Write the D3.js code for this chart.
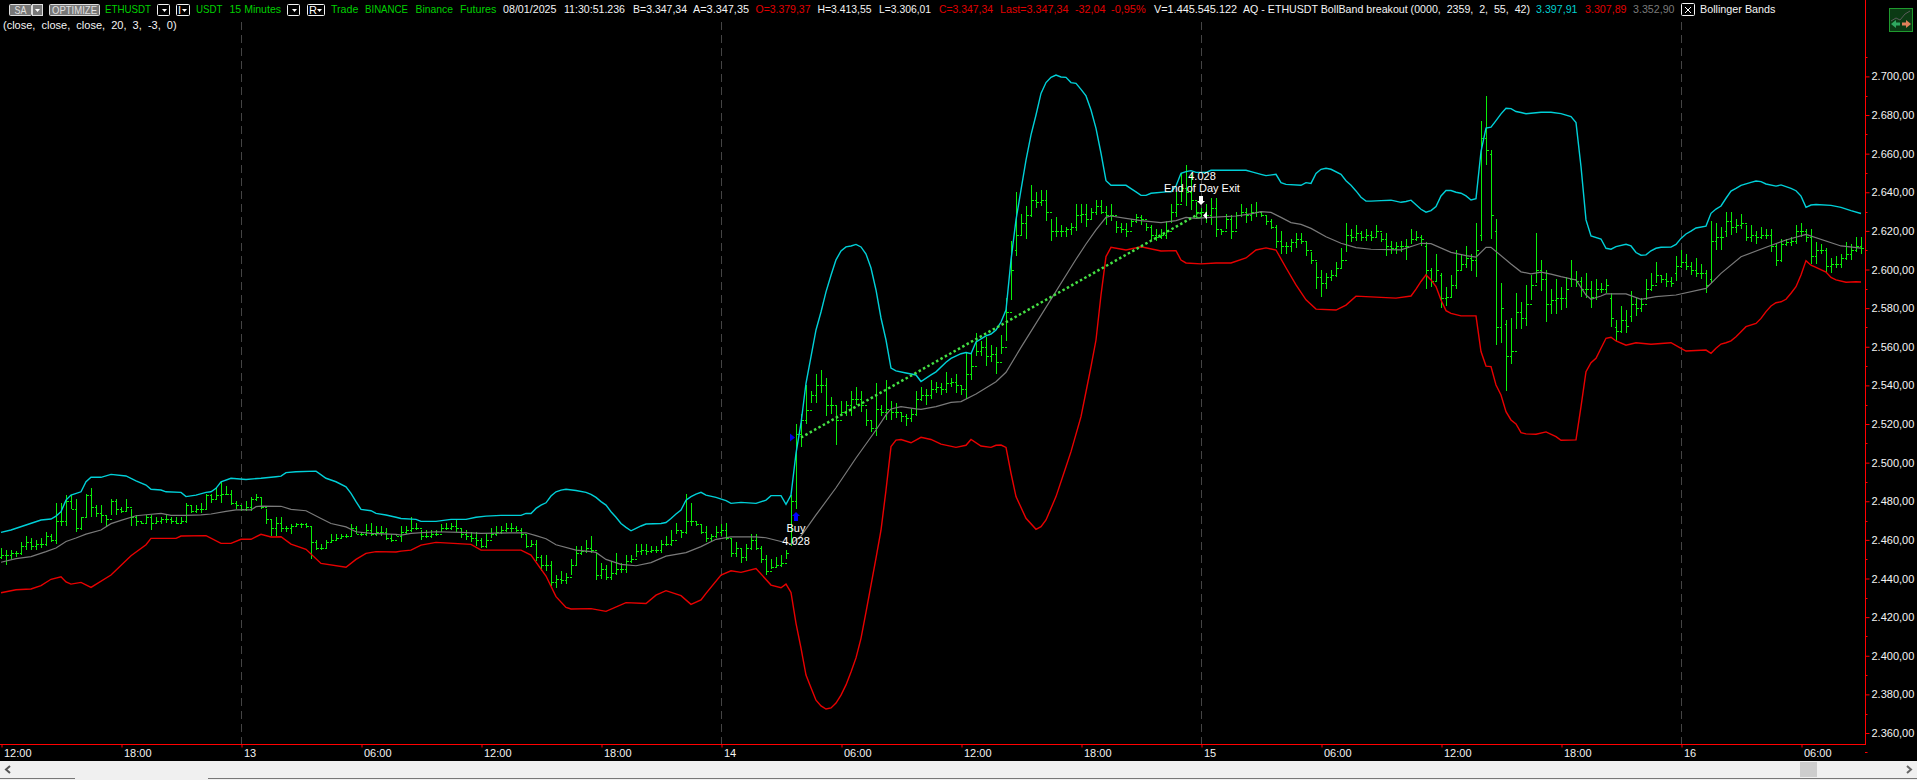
<!DOCTYPE html>
<html>
<head>
<meta charset="utf-8">
<script src="https://cdn.jsdelivr.net/npm/d3@7"></script>
<style>
  html, body { margin: 0; padding: 0; background: #000; overflow: hidden; }
  svg { display: block; }
  text { font-family: "Liberation Sans", Arial, sans-serif; font-size: 11px; white-space: pre; }
</style>
</head>
<body>
<script>
// 15 minute bars (prices). One line = 10 bars.
const highs = [
  2456,2455,2455,2454,2459,2462,2461,2460,2461,2464,
  2463,2479,2479,2483,2483,2481,2472,2484,2487,2478,
  2478,2473,2481,2481,2477,2481,2476,2473,2470,2473,
  2473,2472,2472,2473,2472,2472,2472,2479,2478,2478,
  2479,2484,2484,2487,2490,2488,2486,2480,2478,2480,
  2482,2484,2482,2476,2471,2472,2472,2467,2468,2469,
  2469,2469,2467,2460,2458,2460,2463,2463,2463,2463,
  2468,2467,2464,2468,2469,2467,2467,2466,2463,2463,
  2467,2467,2472,2469,2465,2465,2465,2465,2468,2469,
  2469,2471,2466,2465,2464,2464,2461,2463,2466,2467,
  2467,2469,2469,2467,2466,2463,2460,2460,2452,2452,
  2449,2442,2444,2443,2450,2457,2457,2460,2462,2453,
  2448,2447,2449,2453,2448,2452,2452,2458,2458,2458,
  2457,2457,2460,2462,2465,2469,2465,2484,2479,2470,
  2468,2467,2463,2467,2468,2469,2461,2459,2456,2458,
  2463,2463,2457,2452,2450,2451,2452,2455,2483,2520,
  2525,2540,2537,2546,2548,2544,2534,2530,2532,2532,
  2537,2539,2537,2528,2522,2541,2530,2543,2532,2531,
  2526,2525,2528,2537,2539,2538,2543,2542,2541,2547,
  2544,2546,2540,2557,2557,2567,2563,2565,2561,2560,
  2566,2585,2615,2640,2629,2633,2644,2640,2641,2641,
  2626,2627,2623,2622,2624,2634,2634,2634,2632,2636,
  2636,2633,2634,2625,2624,2624,2626,2629,2628,2624,
  2623,2621,2621,2625,2634,2640,2650,2654,2650,2635,
  2632,2634,2637,2637,2621,2629,2628,2630,2634,2632,
  2634,2635,2630,2628,2626,2623,2620,2614,2616,2619,
  2619,2615,2609,2604,2600,2598,2600,2604,2611,2624,
  2621,2623,2620,2621,2620,2623,2619,2619,2615,2614,
  2615,2616,2621,2620,2618,2614,2601,2608,2598,2591,
  2597,2610,2608,2612,2608,2624,2677,2690,2662,2626,
  2593,2574,2575,2588,2583,2592,2597,2619,2605,2600,
  2590,2595,2591,2596,2605,2599,2596,2598,2594,2595,
  2593,2595,2588,2574,2581,2579,2589,2585,2585,2595,
  2598,2604,2597,2598,2596,2607,2610,2608,2604,2606,
  2603,2600,2625,2624,2622,2630,2630,2626,2629,2623,
  2623,2620,2622,2621,2621,2613,2616,2616,2617,2623,
  2624,2621,2621,2614,2613,2611,2606,2607,2608,2614,
  2613,2617,2617
];
const lows = [
  2450,2447,2450,2451,2452,2455,2455,2455,2456,2457,
  2459,2458,2467,2467,2476,2464,2465,2472,2472,2472,
  2469,2467,2473,2473,2474,2475,2467,2467,2468,2468,
  2465,2468,2468,2469,2468,2468,2469,2469,2474,2474,
  2474,2476,2479,2481,2479,2483,2478,2476,2475,2475,
  2475,2480,2476,2468,2462,2462,2464,2464,2463,2467,
  2466,2466,2450,2455,2455,2456,2459,2460,2461,2461,
  2462,2463,2462,2462,2462,2462,2462,2460,2459,2462,
  2459,2463,2464,2465,2460,2461,2461,2462,2464,2465,
  2465,2464,2461,2460,2459,2457,2456,2456,2461,2462,
  2463,2464,2464,2464,2461,2456,2457,2449,2444,2444,
  2436,2435,2437,2437,2442,2447,2452,2453,2453,2439,
  2440,2439,2439,2442,2443,2443,2448,2451,2452,2452,
  2453,2453,2453,2457,2457,2463,2461,2463,2467,2467,
  2463,2459,2459,2461,2462,2460,2451,2451,2448,2449,
  2455,2455,2448,2442,2445,2446,2446,2450,2457,2476,
  2508,2520,2531,2531,2536,2524,2525,2509,2524,2524,
  2524,2530,2526,2519,2516,2514,2524,2522,2522,2523,
  2521,2519,2521,2524,2532,2530,2533,2536,2535,2536,
  2539,2536,2535,2533,2543,2555,2555,2550,2552,2546,
  2556,2563,2584,2607,2618,2616,2627,2632,2633,2625,
  2615,2617,2617,2617,2618,2620,2624,2622,2626,2628,
  2629,2623,2625,2619,2619,2617,2622,2624,2623,2620,
  2615,2615,2616,2616,2624,2627,2635,2633,2631,2626,
  2627,2624,2623,2617,2618,2621,2616,2621,2627,2624,
  2625,2627,2627,2623,2621,2611,2608,2608,2609,2611,
  2613,2607,2603,2590,2586,2590,2594,2596,2601,2609,
  2614,2615,2615,2615,2615,2617,2614,2607,2608,2608,
  2609,2605,2613,2615,2612,2590,2591,2594,2580,2581,
  2586,2590,2600,2601,2599,2596,2615,2654,2616,2561,
  2562,2537,2551,2569,2569,2571,2584,2593,2589,2573,
  2577,2577,2579,2580,2591,2591,2586,2585,2580,2584,
  2588,2588,2570,2563,2567,2567,2573,2576,2578,2584,
  2589,2593,2593,2591,2591,2594,2601,2600,2597,2596,
  2595,2588,2593,2610,2610,2617,2618,2619,2621,2615,
  2614,2613,2616,2616,2609,2602,2604,2612,2612,2613,
  2617,2614,2603,2603,2608,2598,2598,2601,2601,2605,
  2605,2609,2608
];
const opens = [
  2451,2452,2452,2453,2453,2457,2459,2457,2458,2458,
  2462,2460,2470,2470,2480,2476,2466,2472,2483,2477,
  2474,2473,2471,2480,2476,2475,2477,2472,2470,2469,
  2472,2469,2470,2471,2471,2470,2469,2470,2478,2475,
  2476,2476,2483,2481,2483,2484,2484,2479,2478,2476,
  2477,2481,2482,2477,2471,2466,2469,2466,2466,2467,
  2468,2468,2467,2459,2456,2456,2459,2460,2461,2462,
  2462,2466,2463,2463,2465,2463,2464,2464,2461,2460,
  2462,2464,2465,2466,2466,2462,2462,2463,2463,2466,
  2466,2467,2466,2463,2462,2461,2460,2457,2460,2463,
  2464,2465,2466,2466,2465,2463,2457,2458,2451,2447,
  2447,2438,2440,2439,2441,2447,2453,2454,2456,2455,
  2442,2445,2441,2443,2445,2445,2449,2450,2454,2455,
  2454,2455,2455,2458,2458,2460,2465,2464,2470,2470,
  2468,2464,2461,2462,2464,2465,2461,2453,2456,2451,
  2456,2460,2456,2450,2444,2446,2447,2448,2458,2480,
  2515,2522,2527,2535,2540,2540,2530,2530,2522,2526,
  2530,2533,2533,2530,2522,2518,2528,2526,2528,2526,
  2526,2524,2523,2525,2533,2535,2535,2538,2539,2538,
  2541,2542,2540,2538,2546,2550,2558,2560,2555,2556,
  2552,2560,2578,2610,2618,2624,2628,2636,2635,2636,
  2630,2620,2620,2620,2621,2622,2628,2629,2626,2630,
  2633,2630,2628,2628,2622,2621,2620,2625,2627,2626,
  2622,2618,2617,2618,2620,2630,2634,2642,2640,2636,
  2630,2630,2628,2632,2621,2620,2626,2620,2628,2630,
  2628,2630,2630,2628,2625,2622,2615,2612,2612,2614,
  2616,2615,2610,2605,2596,2593,2596,2597,2601,2605,
  2618,2617,2619,2617,2618,2617,2620,2616,2612,2611,
  2612,2612,2612,2616,2617,2612,2600,2594,2597,2585,
  2586,2592,2600,2603,2606,2605,2618,2668,2660,2620,
  2570,2572,2555,2558,2578,2575,2582,2592,2600,2595,
  2582,2584,2585,2585,2595,2595,2594,2590,2590,2586,
  2590,2590,2585,2570,2568,2574,2576,2582,2580,2582,
  2590,2592,2597,2595,2594,2598,2602,2604,2602,2600,
  2598,2598,2595,2615,2617,2620,2625,2622,2623,2624,
  2617,2618,2617,2618,2618,2612,2605,2613,2614,2615,
  2620,2620,2617,2607,2610,2610,2602,2603,2603,2606,
  2608,2610,2612
];
const closes = [
  2452,2452,2453,2453,2457,2459,2457,2458,2458,2462,
  2460,2470,2470,2480,2476,2466,2472,2483,2477,2474,
  2473,2471,2480,2476,2475,2477,2472,2470,2469,2472,
  2469,2470,2471,2471,2470,2469,2470,2478,2475,2476,
  2476,2483,2481,2483,2484,2484,2479,2478,2476,2477,
  2481,2482,2477,2471,2466,2469,2466,2466,2467,2468,
  2468,2467,2459,2456,2456,2459,2460,2461,2462,2462,
  2466,2463,2463,2465,2463,2464,2464,2461,2460,2462,
  2464,2465,2466,2466,2462,2462,2463,2463,2466,2466,
  2467,2466,2463,2462,2461,2460,2457,2460,2463,2464,
  2465,2466,2466,2465,2463,2457,2458,2451,2447,2447,
  2438,2440,2439,2441,2447,2453,2454,2456,2455,2442,
  2445,2441,2443,2445,2445,2449,2450,2454,2455,2454,
  2455,2455,2458,2458,2460,2465,2464,2470,2470,2468,
  2464,2461,2462,2464,2465,2461,2453,2456,2451,2456,
  2460,2456,2450,2444,2446,2447,2448,2453,2480,2515,
  2522,2527,2535,2540,2540,2530,2530,2522,2526,2530,
  2533,2533,2530,2522,2518,2528,2526,2528,2526,2526,
  2524,2523,2525,2533,2535,2535,2538,2539,2538,2541,
  2542,2540,2538,2546,2550,2558,2560,2555,2556,2552,
  2560,2578,2600,2618,2624,2628,2636,2635,2636,2630,
  2620,2620,2620,2621,2622,2628,2629,2626,2630,2633,
  2630,2628,2628,2622,2621,2620,2625,2627,2626,2622,
  2618,2617,2618,2620,2630,2634,2642,2640,2636,2630,
  2630,2628,2632,2621,2620,2626,2620,2628,2630,2628,
  2630,2630,2628,2625,2622,2615,2612,2612,2614,2616,
  2615,2610,2605,2596,2593,2596,2597,2601,2605,2618,
  2617,2619,2617,2618,2617,2620,2616,2612,2611,2612,
  2612,2612,2616,2617,2616,2600,2594,2600,2585,2586,
  2592,2600,2603,2606,2605,2610,2668,2662,2628,2570,
  2580,2555,2558,2578,2575,2582,2592,2600,2595,2582,
  2584,2585,2585,2590,2595,2594,2590,2590,2586,2590,
  2590,2592,2575,2568,2574,2571,2582,2580,2582,2590,
  2592,2597,2595,2594,2593,2602,2604,2602,2600,2598,
  2598,2592,2615,2617,2617,2625,2622,2623,2624,2617,
  2618,2617,2618,2618,2612,2605,2613,2614,2615,2620,
  2620,2617,2607,2610,2610,2602,2603,2603,2606,2608,
  2610,2612,2611
];

// Bollinger bands: bar index and price of each point
const upperIdx = [0,2,5,8,10,11,12,13,14,16,17,18,20,22,25,27,29,30,32,33,36,37,39,41,42,43,44,46,49,52,53,55,56,57,59,63,65,67,69,70,71,72,74,75,77,79,
  80,83,84,87,90,93,95,97,100,104,105,106,107,108,109,110,111,112,113,115,117,118,119,120,121,122,123,124,125,126,127,128,129,132,133,134,135,136,137,138,139,140,141,143,145,146,148,151,153,154,156,157,158,
  159,160,161,162,163,164,165,166,167,168,169,170,171,172,173,174,175,176,177,178,179,181,183,184,186,187,189,190,192,193,194,195,197,198,199,200,201,202,
  203,204,205,206,207,208,209,210,211,212,213,214,215,216,217,218,219,220,221,222,225,226,227,228,229,230,233,234,235,236,237,238,239,241,242,249,250,252,253,255,256,257,260,261,262,263,264,265,266,268,269,
  270,271,272,273,274,276,278,280,281,282,283,284,285,286,287,288,289,290,291,292,293,294,295,296,297,298,299,300,301,302,303,304,305,306,308,310,312,314,315,316,317,318,320,321,322,323,325,326,327,328,329,
  330,331,332,334,335,336,337,338,339,341,342,343,344,345,346,347,348,350,351,352,353,355,356,358,359,360,361,362,363,366,368,370,372];
const upperBand = [2463.9,2465.1,2467.7,2470.3,2470.8,2472.3,2474.6,2480.6,2483.2,2484.9,2490.1,2492.4,2492.4,2493.9,2493.1,2490.6,2488.4,2486.2,2485.8,2484.9,2484.6,2482.4,2483.2,2484.6,2484.9,2486.7,2490.1,2491.9,2491.3,2491.9,2492.2,2492.7,2493,2494.8,2495.3,2495.6,2491.9,2490.1,2487.5,2484.1,2479.8,2475.8,2475.1,2473.7,2472.9,2471.7,
  2471.1,2470.6,2469.6,2469.6,2470.6,2470.6,2471.7,2472.3,2472.7,2472.7,2473.7,2473.7,2476.3,2478,2479.2,2482.7,2484.9,2485.8,2486.2,2485.6,2484.6,2483.6,2482,2479.8,2478,2474.6,2471.7,2468.5,2466.5,2464.7,2466,2467.2,2468.2,2468.5,2469,2471.1,2473.4,2475.5,2480.6,2482.4,2483.7,2484.6,2483.2,2482,2480.3,2478.9,2479.4,2478.9,2480.6,2482.9,2482.9,2478.4,2483.2,
  2504.8,2520.4,2541.1,2554.9,2568.7,2578,2588.4,2597,2605,2609.6,2611.7,2612.2,2613,2611.7,2608,2600.8,2589.4,2574.9,2563.5,2549,2547.5,2546.4,2545.4,2542,2545.4,2547,2552,2554,2556.4,2557,2556.4,2562.5,2565.6,2566.6,2568.7,2572.8,2579,2604.9,
  2625.7,2641.2,2656.7,2669.7,2680,2691.2,2696.8,2699.5,2700.7,2699.7,2699.5,2696.8,2696.4,2693.3,2689.9,2682.6,2673.1,2660.2,2646,2643.6,2643.6,2641.9,2640.2,2638.4,2638.4,2639.5,2640.2,2640.3,2643.3,2649.8,2650.7,2651.2,2650.3,2650.2,2651.4,2651.4,2650.7,2649.3,2648.6,2649.3,2645,2644.1,2643.6,2645,2644.6,2649.8,2651.9,2652.4,2651.9,2649.3,2646,
  2643.6,2640.7,2637.4,2635.5,2635.4,2635.7,2635.9,2634.8,2635.2,2635.9,2633.5,2631.2,2629.7,2630.5,2632.6,2638.1,2640.9,2640.9,2640,2639.5,2638.1,2636,2636.7,2661.1,2673.2,2673.7,2677.1,2680.6,2683.5,2683.3,2681.8,2681.3,2680.7,2680.9,2681.4,2681.4,2680.7,2679.2,2676.1,2653.3,2625.7,2617.4,2615.8,2611,2610.5,2611.9,2613.1,2612.2,2608.8,2607.4,2607.6,
  2609.7,2611,2611.5,2611.6,2613,2616.1,2618.4,2619.9,2621.5,2622.5,2629.1,2631.3,2632.9,2636.9,2640.6,2642,2643.6,2645.1,2645.8,2645.5,2644.3,2643.2,2643.8,2642,2640.8,2638,2632.2,2633.4,2633.7,2633.2,2632.2,2630.5,2629];

const middleIdx = [0,3,6,9,11,13,15,17,20,22,24,27,29,32,34,37,40,42,45,47,50,51,52,56,58,61,64,66,69,71,74,79,
  80,82,87,92,96,105,107,109,111,115,118,119,121,124,127,130,133,137,140,143,146,151,153,157,158,159,160,163,167,171,175,177,178,180,183,184,187,190,192,195,199,201,204,
  215,217,219,221,222,225,228,232,235,237,239,241,247,250,252,254,256,258,260,262,265,268,271,274,280,284,286,290,293,295,297,298,302,304,306,308,310,312,315,317,318,320,321,325,328,331,335,341,344,348,353,357,361,368,372];
const middleBand = [2448.4,2450.3,2451.3,2453.9,2455.8,2459.2,2461,2463,2465.1,2468.4,2470.1,2472.5,2473,2473.7,2472.7,2472.7,2473,2473.4,2474.8,2475.5,2475.5,2477.2,2477.5,2477.4,2475.8,2475.1,2471.1,2468.5,2466.7,2464.2,2463.4,2462.9,
  2462.5,2463.4,2464.2,2463.9,2463.4,2463.7,2462.2,2460.6,2457.5,2454.7,2453.9,2453.5,2449.9,2447.3,2446.6,2448.2,2451.6,2453.4,2456.5,2460.3,2461.6,2461.6,2461.1,2458.5,2457.8,2459.9,2462,2472.9,2487,2502.4,2516.9,2524.7,2527.8,2529,2527.8,2527.6,2529,2531.2,2531.6,2535.5,2541.9,2546.8,2559.7,
  2605.3,2613.2,2620.5,2627,2627.7,2626.5,2625.3,2624.3,2625.3,2627,2626.5,2626.9,2627.7,2628.8,2630,2629.6,2627,2624.3,2623.4,2621.3,2617,2613.6,2611.3,2610.5,2610.2,2613.6,2613.4,2608.9,2607.2,2606.4,2611.5,2611.5,2602.9,2598.8,2597.7,2598.6,2597.6,2596.3,2594.6,2586.8,2584.6,2586.3,2587.4,2587.4,2584.6,2586,2586.8,2590.2,2598,2606.6,2611.5,2615.3,2618.2,2612.2,2611.1];

const lowerIdx = [0,3,6,8,10,12,13,14,16,18,22,26,29,30,35,36,41,44,46,48,50,52,54,56,58,61,64,69,71,73,75,79,
  80,82,84,87,94,96,104,106,109,111,113,114,118,121,125,129,131,133,136,138,140,141,144,146,148,151,154,156,157,158,159,
  160,161,162,163,164,165,166,167,168,169,170,171,172,173,174,175,176,177,178,179,180,182,184,186,188,191,193,194,196,198,199,200,201,202,203,205,207,208,209,211,213,214,216,217,218,219,220,221,222,225,228,232,235,236,237,240,243,246,249,251,253,255,257,259,261,263,267,269,271,275,279,282,283,284,285,286,287,288,289,290,292,295,296,297,298,299,300,301,302,303,304,305,307,309,311,312,315,316,317,318,319,320,321,322,323,325,327,330,334,336,337,341,342,343,344,345,346,347,348,349,351,352,353,354,355,356,357,358,359,360,361,362,363,365,366,367,369,371,372];
const lowerBand = [2432.6,2434.2,2434.6,2436.3,2439.6,2440.9,2438.2,2437.1,2438,2435.4,2441.8,2451.8,2457.5,2460.8,2460.8,2462,2462.2,2458.2,2458.2,2460.3,2460.3,2462.9,2461.5,2461.6,2457.8,2455.1,2447.8,2445.8,2449.9,2453,2453.9,2453.7,
  2454.2,2454.7,2457.3,2458.7,2457.7,2454.7,2454.7,2452.1,2441.3,2430.6,2425,2424.2,2424.4,2423,2427.5,2427.1,2431.4,2433.7,2431.1,2426.6,2428.9,2432.3,2441.8,2444,2443.2,2445.2,2436.6,2435.2,2437.1,2432.8,2416.8,
  2404,2390,2383.4,2377,2374,2372.4,2373,2375.5,2379.6,2384.9,2391.6,2398.9,2409,2422.6,2436.6,2450.5,2465,2485.8,2508.3,2511.7,2512,2510.3,2513.1,2512,2509.6,2507.9,2509,2512,2508.6,2507.9,2509,2509.1,2507.9,2494.5,2482.4,2471.2,2465.5,2466.8,2470.3,2482.4,2497.9,2505.7,2523.8,2536.7,2549.7,2563.5,2586.8,2606.7,2611.5,2610.1,2611.8,2609.6,2609.8,2604.9,2603.4,2602.9,2603.4,2603.4,2606,2610.1,2611.2,2610.1,2600.9,2592,2584.3,2579.5,2579,2581.6,2586.2,2585.7,2585.2,2586.3,2589.8,2593.8,2597.2,2594.6,2591.2,2584.2,2578.7,2577.3,2576,2576,2557.5,2550,2549.7,2540.2,2535,2526.4,2522.1,2520,2515.5,2514.9,2514.7,2515.9,2513.5,2511.6,2511.8,2529,2547.1,2551.8,2554,2559.2,2564.4,2564.9,2563,2560.8,2562.1,2561.3,2562.1,2559.2,2557.8,2558.3,2556.6,2559.2,2561.4,2562.1,2563.1,2565.2,2567.8,2570.4,2572.1,2574.7,2578.2,2581.1,2582.8,2583.3,2584.6,2587.7,2591.1,2597.2,2604.6,2602.2,2601.1,2598.7,2595.9,2594.6,2593.4,2593.7,2593.5];

// axes
const dayBars = [48, 144, 240, 336];
const timeTicks = [0,24,48,72,96,120,144,168,192,216,240,264,288,312,336,360];
const timeLabels = ["12:00","18:00","13","06:00","12:00","18:00","14","06:00","12:00","18:00","15","06:00","12:00","18:00","16","06:00"];
const priceTicks = d3.range(2360, 2701, 20);
const priceMinor = d3.range(2350, 2711, 20);

// trade
const tradeIdx = [160, 239];
const tradePrice = [2513, 2628];

const width = 1917, height = 780;
const axisX = 1865, axisY = 744;

let x = d3.scaleLinear().domain([0, 372]).range([1, 1861]);
let y = d3.scaleLinear().domain([2360, 2700]).range([733, 76.4]);

const priceFormat = d3.formatLocale({ decimal: ",", thousands: ".", grouping: [3], currency: ["", ""] }).format(",.2f");

let svg = d3.select("body").append("svg")
    .attr("width", width)
    .attr("height", height)
    .attr("viewBox", [0, 0, width, height]);

svg.append("rect").attr("width", width).attr("height", height).attr("fill", "#000");

// day separators
svg.append("g")
    .selectAll("line")
    .data(dayBars)
    .join("line")
    .attr("x1", d => x(d) + 0.5)
    .attr("x2", d => x(d) + 0.5)
    .attr("y1", 22)
    .attr("y2", axisY)
    .attr("stroke", "#444")
    .attr("stroke-dasharray", "8,5");

// OHLC bars
const bars = svg.append("g")
    .attr("stroke", "#08ef08")
    .attr("shape-rendering", "crispEdges")
    .selectAll("g")
    .data(d3.range(highs.length))
    .join("g");
bars.append("line")
    .attr("x1", i => x(i) + 0.5).attr("x2", i => x(i) + 0.5)
    .attr("y1", i => y(highs[i])).attr("y2", i => y(lows[i]));
bars.append("line")
    .attr("x1", i => x(i) - 1.5).attr("x2", i => x(i) + 0.5)
    .attr("y1", i => Math.round(y(opens[i])) + 0.5).attr("y2", i => Math.round(y(opens[i])) + 0.5);
bars.append("line")
    .attr("x1", i => x(i) + 0.5).attr("x2", i => x(i) + 2.5)
    .attr("y1", i => Math.round(y(closes[i])) + 0.5).attr("y2", i => Math.round(y(closes[i])) + 0.5);

// bands
const bandLine = (idx, vals) => d3.line().x((d, i) => x(idx[i])).y(d => y(d))(vals);
svg.append("path").attr("d", bandLine(middleIdx, middleBand)).attr("fill", "none").attr("stroke", "#7a7a7a").attr("stroke-width", 1.2);
svg.append("path").attr("d", bandLine(upperIdx, upperBand)).attr("fill", "none").attr("stroke", "#00d0d8").attr("stroke-width", 1.4);
svg.append("path").attr("d", bandLine(lowerIdx, lowerBand)).attr("fill", "none").attr("stroke", "#e80000").attr("stroke-width", 1.4);

// trade line and markers
svg.append("path")
    .attr("d", d3.line().x((d, i) => x(tradeIdx[i])).y(d => y(d))(tradePrice))
    .attr("fill", "none")
    .attr("stroke", "#44e044")
    .attr("stroke-width", 2.5)
    .attr("stroke-dasharray", "2.5,2.5");

const entryX = x(tradeIdx[0]), entryY = y(tradePrice[0]);
const exitX = x(tradeIdx[1]), exitY = y(tradePrice[1]);
svg.append("path").attr("d", `M${entryX - 11},${entryY - 4}L${entryX - 6},${entryY}L${entryX - 11},${entryY + 4}Z`).attr("fill", "#0000e0");
svg.append("path").attr("d", "M796,512l4,4h-2v5h-4v-5h-2Z").attr("fill", "#0000ff");
svg.append("path").attr("d", `M${exitX + 11},${exitY - 4}L${exitX + 7},${exitY}L${exitX + 11},${exitY + 4}Z`).attr("fill", "#fff");
svg.append("path").attr("d", "M1201,205l4,-4h-2v-5h-4v5h-2Z").attr("fill", "#fff");
svg.append("circle").attr("cx", exitX + 3).attr("cy", exitY).attr("r", 2.5).attr("fill", "none").attr("stroke", "#3ed43e");

const notes = [
  ["Buy", 796, 532], ["4.028", 796, 545],
  ["4.028", 1202, 180], ["End of Day Exit", 1202, 192]
];
svg.append("g").selectAll("text").data(notes).join("text")
    .attr("x", d => d[1]).attr("y", d => d[2])
    .attr("text-anchor", "middle").attr("fill", "#fff")
    .text(d => d[0]);

// price axis
const yAxis = d3.axisRight(y).tickValues(priceTicks).tickSize(4).tickSizeOuter(0).tickPadding(2).tickFormat(priceFormat);
const yg = svg.append("g").attr("transform", `translate(${axisX + 0.5},0)`).call(yAxis);
yg.select(".domain").remove();
yg.selectAll(".tick line").attr("stroke", "#f00");
yg.selectAll("text").attr("fill", "#f4f4f4").style("font-size", "11px").style("font-family", "Liberation Sans");
svg.append("g").selectAll("line").data(priceMinor).join("line")
    .attr("x1", axisX).attr("x2", axisX + 2.5)
    .attr("y1", d => Math.round(y(d)) + 0.5).attr("y2", d => Math.round(y(d)) + 0.5)
    .attr("stroke", "#f00");
svg.append("line").attr("x1", axisX + 0.5).attr("x2", axisX + 0.5).attr("y1", 0).attr("y2", axisY + 0.5).attr("stroke", "#f00");

// time axis
const xAxis = d3.axisBottom(x).tickValues(timeTicks).tickSize(3).tickSizeOuter(0).tickPadding(2).tickFormat((d, i) => timeLabels[i]);
const xg = svg.append("g").attr("transform", `translate(0.5,${axisY + 0.5})`).call(xAxis);
xg.select(".domain").remove();
xg.selectAll(".tick line").attr("stroke", "#f00");
xg.selectAll("text").attr("fill", "#f4f4f4").attr("text-anchor", "start").attr("dx", 2).style("font-size", "11px").style("font-family", "Liberation Sans");
svg.append("line").attr("x1", 0).attr("x2", axisX + 1).attr("y1", axisY + 0.5).attr("y2", axisY + 0.5).attr("stroke", "#f00");

// header: text, left edge, colour, measured width
const green = "#00d000", white = "#f4f4f4", red = "#e00000";
const header = [
  ["ETHUSDT", 105, green, 46], ["USDT", 196, green, 26.5], ["15 Minutes", 229.5, green, 51.5],
  ["Trade", 331, green, 27.3], ["BINANCE", 365, green, 43], ["Binance", 415.5, green, 37.5], ["Futures", 460, green, 36.3],
  ["08/01/2025", 503, white, 53.5], ["11:30:51.236", 564, white, 61], ["B=3.347,34", 633, white, 54], ["A=3.347,35", 693, white, 56],
  ["O=3.379,37", 755.5, red, 55], ["H=3.413,55", 817.5, white, 54], ["L=3.306,01", 879, white, 52], ["C=3.347,34", 939, red, 54],
  ["Last=3.347,34", 1000, red, 68.5], ["-32,04", 1075, red, 30.6], ["-0,95%", 1111, red, 34.7], ["V=1.445.545.122", 1154, white, 83],
  ["AQ - ETHUSDT BollBand breakout (0000,  2359,  2,  55,  42)", 1243, white, 287],
  ["3.397,91", 1536, "#00d0d0", 41.5], ["3.307,89", 1585, red, 41.5], ["3.352,90", 1633, "#7a7a7a", 41.5], ["Bollinger Bands", 1700, white, 75.5]
];
svg.append("g").selectAll("text").data(header).join("text")
    .attr("x", d => d[1]).attr("y", 13).attr("fill", d => d[2])
    .attr("textLength", d => d[3]).attr("lengthAdjust", "spacingAndGlyphs")
    .text(d => d[0]);
svg.append("text").attr("x", 3).attr("y", 29).attr("fill", white).text("(close,  close,  close,  20,  3,  -3,  0)");

// toolbar buttons
const btn = svg.append("g");
[[9, 22, "SA", 12], [49, 50, "OPTIMIZE", 45]].forEach(([bx, bw, label, lw]) => {
  btn.append("rect").attr("x", bx + 0.5).attr("y", 4.5).attr("width", bw).attr("height", 11).attr("rx", 1).attr("fill", "#777").attr("stroke", "#ddd");
  btn.append("text").attr("x", bx + (bw - lw) / 2 + 0.5).attr("y", 14).attr("fill", "#e0e0e0")
      .attr("textLength", lw).attr("lengthAdjust", "spacingAndGlyphs").text(label);
});
btn.append("rect").attr("x", 32.5).attr("y", 4.5).attr("width", 10).attr("height", 11).attr("fill", "#777").attr("stroke", "#ddd");
btn.append("path").attr("d", "M35,9h5l-2.5,3Z").attr("fill", "#fff");
[[157, 12, ""], [176, 13, "I"], [287, 12, ""], [307, 17, "R"]].forEach(([bx, bw, label]) => {
  btn.append("rect").attr("x", bx + 0.5).attr("y", 4.5).attr("width", bw).attr("height", 11).attr("rx", 1).attr("fill", "#000").attr("stroke", "#f4f4f4");
  btn.append("path").attr("d", `M${bx + bw - 7},9h5l-2.5,3Z`).attr("fill", "#fff");
  if (label) btn.append("text").attr("x", bx + 2).attr("y", 14).attr("fill", "#fff").text(label);
});
btn.append("rect").attr("x", 1681.5).attr("y", 3.5).attr("width", 13).attr("height", 12).attr("rx", 1).attr("fill", "#000").attr("stroke", "#f4f4f4");
btn.append("path").attr("d", "M1685,7l6,6M1691,7l-6,6").attr("stroke", "#fff").attr("fill", "none");

// corner icon
const icon = svg.append("g").attr("transform", "translate(1889,8)");
icon.append("rect").attr("x", 0.5).attr("y", 0.5).attr("width", 23).attr("height", 23).attr("fill", "#0b3a14").attr("stroke", "#1f9a2e");
icon.append("path").attr("d", "M2,13l5,-3l4,2l5,-6l5,-3").attr("fill", "none").attr("stroke", "#5a5a5a");
icon.append("path").attr("d", "M2,16l5,-4v2.5h4v3h-4v2.5Z").attr("fill", "#2fa860");
icon.append("path").attr("d", "M22,16l-5,-4v2.5h-4v3h4v2.5Z").attr("fill", "#e0805a");

// scrollbar strip
svg.append("rect").attr("x", 0).attr("y", 761).attr("width", width).attr("height", 19).attr("fill", "#f0f0f0");
svg.append("rect").attr("x", 1800).attr("y", 762).attr("width", 17).attr("height", 15).attr("fill", "#cdcdcd");
svg.append("path").attr("d", "M10,766l-4,3.5l4,3.5").attr("fill", "none").attr("stroke", "#555").attr("stroke-width", 2);
svg.append("path").attr("d", "M1907,766l4,3.5l-4,3.5").attr("fill", "none").attr("stroke", "#666").attr("stroke-width", 2);
svg.append("line").attr("x1", 0).attr("x2", 75).attr("y1", 778.5).attr("y2", 778.5).attr("stroke", "#777");
svg.append("line").attr("x1", 208).attr("x2", width).attr("y1", 778.5).attr("y2", 778.5).attr("stroke", "#777");
</script>
</body>
</html>
